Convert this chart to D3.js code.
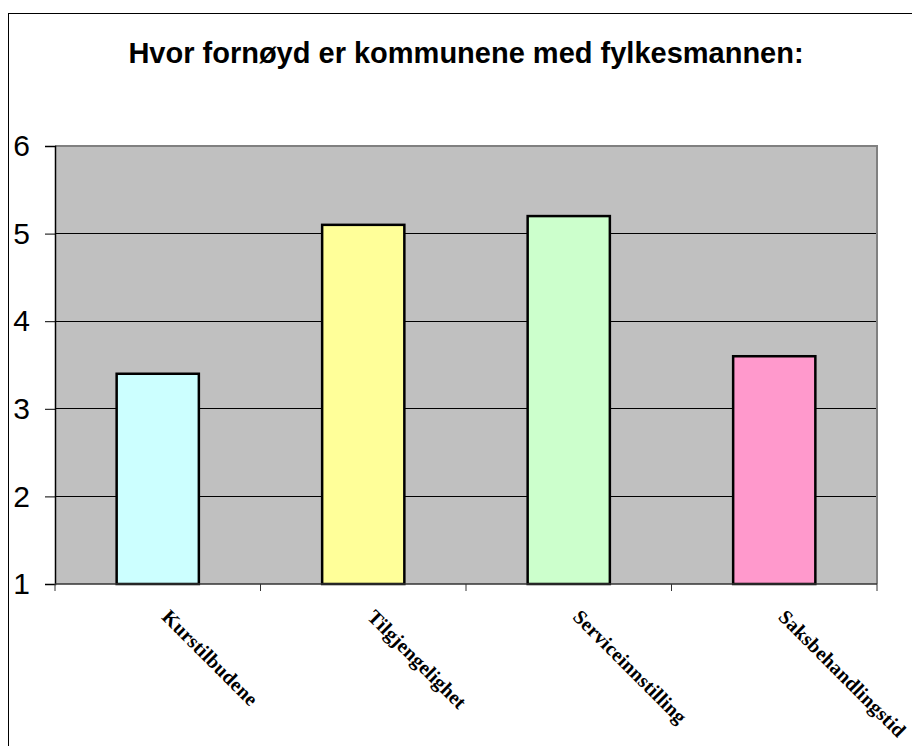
<!DOCTYPE html>
<html><head><meta charset="utf-8">
<script src="https://cdn.jsdelivr.net/npm/d3@7"></script>
<style>html,body{margin:0;padding:0;background:#fff;}</style>
</head><body>
<script>
const title = "Hvor fornøyd er kommunene med fylkesmannen:";
const categories = ["Kurstilbudene", "Tilgjengelighet", "Serviceinnstilling", "Saksbehandlingstid"];
const values = [3.4, 5.1, 5.2, 3.6];
const colors = ["#CCFFFF", "#FFFF99", "#CCFFCC", "#FF99CC"];
const yTicks = [1, 2, 3, 4, 5, 6];

const W = 912, H = 746;
const svg = d3.select("body").append("svg").attr("width", W).attr("height", H);

svg.append("rect").attr("x", 8.5).attr("y", 13.5).attr("width", 940).attr("height", 760)
  .attr("fill", "#fff").attr("stroke", "#000").attr("stroke-width", 1);

const L = 55, R = 877, T = 146, B = 584;
const x = d3.scaleBand().domain(categories).range([L, R]).paddingInner(0).paddingOuter(0);
const y = d3.scaleLinear().domain([1, 6]).range([B, T]);

svg.append("rect").attr("x", L).attr("y", T).attr("width", R - L).attr("height", B - T)
  .attr("fill", "#C0C0C0");

// gridlines
svg.append("g").selectAll("line").data(yTicks.filter(d => d > 1 && d < 6)).join("line")
  .attr("x1", L).attr("x2", R).attr("y1", d => y(d)).attr("y2", d => y(d))
  .attr("stroke", "#000").attr("stroke-width", 1).attr("shape-rendering", "crispEdges");

// plot border top/right
svg.append("path").attr("d", `M${L},${T}H${R}V${B}`).attr("fill", "none")
  .attr("stroke", "#808080").attr("stroke-width", 2);

// bars
const bw = x.bandwidth() / 2.5;
svg.append("g").selectAll("rect").data(values).join("rect")
  .attr("x", (d, i) => x(categories[i]) + (x.bandwidth() - bw) / 2)
  .attr("y", d => y(d))
  .attr("width", bw)
  .attr("height", d => y(1) - y(d))
  .attr("fill", (d, i) => colors[i])
  .attr("stroke", "#000").attr("stroke-width", 2.5);

// y axis
const yAxis = d3.axisLeft(y).tickValues(yTicks).tickSize(10).tickPadding(15).tickFormat(d3.format("d"));
const gy = svg.append("g").attr("transform", `translate(${L},0)`).call(yAxis);
gy.select(".domain").attr("stroke", "#000").attr("stroke-width", 1.5);
gy.selectAll(".tick line").attr("stroke", "#000");
gy.selectAll(".tick text").attr("font-family", "Liberation Sans, Arial, sans-serif")
  .attr("font-size", 30).attr("fill", "#000");

// x axis (ticks at band boundaries)
const gx = svg.append("g");
gx.append("line").attr("x1", L).attr("x2", R).attr("y1", B).attr("y2", B)
  .attr("stroke", "#333").attr("stroke-width", 1.5);
const bounds = categories.map(c => x(c)).concat([R]);
gx.selectAll("line.t").data(bounds).join("line").attr("class", "t")
  .attr("x1", d => d).attr("x2", d => d).attr("y1", B).attr("y2", B + 7)
  .attr("stroke", "#333").attr("stroke-width", 1);

svg.append("g").selectAll("text").data(categories).join("text")
  .attr("transform", d => `translate(${x(d) + x.bandwidth() / 2 + 3},${618}) rotate(45)`)
  .attr("font-family", "Liberation Serif, Times New Roman, serif")
  .attr("font-weight", "bold").attr("font-size", 20).attr("letter-spacing", 0.2).attr("fill", "#000")
  .text(d => d);

svg.append("text").attr("x", 466).attr("y", 63)
  .attr("text-anchor", "middle")
  .attr("font-family", "Liberation Sans, Arial, sans-serif")
  .attr("font-weight", "bold").attr("font-size", 29).attr("fill", "#000")
  .text(title);
</script>
</body></html>
